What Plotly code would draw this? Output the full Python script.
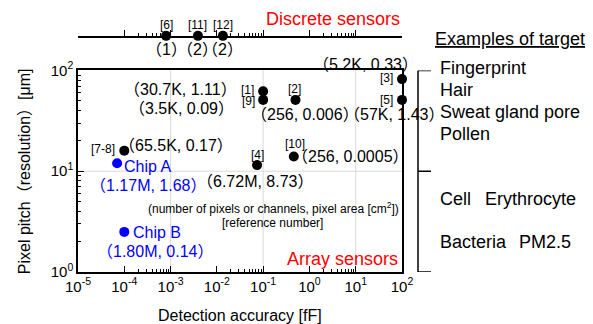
import numpy as np
import plotly.graph_objects as go

# ---------------- data ----------------
array_refs = ["[1]", "[9]", "[2]", "[3]", "[5]", "[7-8]", "[4]", "[10]"]
array_accuracy_fF = [0.1, 0.1, 0.5, 100, 100, 1e-4, 0.074, 0.46]
array_pitch_um = [62, 51, 51, 82, 51, 16, 11.5, 14]
array_info = ["（30.7K, 1.11）", "（3.5K, 0.09）", "（256, 0.006）", "（5.2K, 0.33）",
              "（57K, 1.43）", "（65.5K, 0.17）", "（6.72M, 8.73）", "（256, 0.0005）"]

chip_names = ["Chip A", "Chip B"]
chip_accuracy_fF = [7e-5, 1e-4]
chip_pitch_um = [12, 2.5]
chip_info = ["（1.17M, 1.68）", "（1.80M, 0.14）"]

discrete_refs = ["[6]", "[11]", "[12]"]
discrete_accuracy_fF = [8e-4, 3.9e-3, 0.0135]
discrete_channels = ["（1）", "（2）", "（2）"]

x_decades = [-5, -4, -3, -2, -1, 0, 1, 2]
y_decades = [0, 1, 2]
x_grid = [1e-3, 1e-1, 10]
y_grid = [10]

targets_upper = ["Fingerprint", "Hair", "Sweat gland pore", "Pollen"]
targets_lower = [["Cell", "Erythrocyte"], ["Bacteria", "PM2.5"]]

# ---------------- styles / layout ----------------
W, H = 593, 324
ML, MR, MT, MB = 78, 191, 20, 52
PW = W - ML - MR
PH = H - MT - MB
PLOT_TOP_PX = 68
LINE_TOP_PX = 33

def xp(px):
    return (px - ML) / PW

def yp(px):
    return (H - MB - px) / PH

FONT = "Arial, 'Liberation Sans', 'Noto Sans CJK JP', sans-serif"
BLUE = "#0000ff"
RED = "#ff0000"
LABEL_SIZE = 16

# label offsets: (ref_anchor, ref_dx, ref_dy, info_anchor, info_dx, info_dy) in px, dy downward
array_label_pos = [
    ("right", -7, -1, "right", -24, -2),
    ("right", -6, 1, "right", -27, 9),
    ("center", -1, -11, "center", 9, 15),
    ("right", -7, -1, "center", -37, -15),
    ("right", -7, 0, "center", -8, 15),
    ("right", -7, -2, "left", -7, -5),
    ("center", 0, -10, "center", -2, 16),
    ("center", 1, -12, "left", -4, 0),
]
chip_label_pos = [
    ("left", 5, 3, "center", 31, 22),
    ("left", 7, 1, "center", 31, 20),
]

fig = go.Figure()
fig.add_trace(go.Scatter(x=array_accuracy_fF, y=array_pitch_um, mode="markers",
                         marker=dict(color="black", size=10), cliponaxis=False,
                         xaxis="x", yaxis="y", hoverinfo="skip"))
fig.add_trace(go.Scatter(x=chip_accuracy_fF, y=chip_pitch_um, mode="markers",
                         marker=dict(color=BLUE, size=10), cliponaxis=False,
                         xaxis="x", yaxis="y", hoverinfo="skip"))
fig.add_trace(go.Scatter(x=discrete_accuracy_fF, y=[0] * len(discrete_accuracy_fF), mode="markers",
                         marker=dict(color="black", size=10), cliponaxis=False,
                         xaxis="x2", yaxis="y2", hoverinfo="skip"))

ann = []
for ref, xv, yv, info, pos in zip(array_refs, array_accuracy_fF, array_pitch_um, array_info, array_label_pos):
    ra, rdx, rdy, ia, idx, idy = pos
    ann.append(dict(x=np.log10(xv), y=np.log10(yv), xref="x", yref="y", text=ref, showarrow=False,
                    xanchor=ra, yanchor="middle", xshift=rdx, yshift=-rdy,
                    font=dict(size=12, color="black")))
    ann.append(dict(x=np.log10(xv), y=np.log10(yv), xref="x", yref="y", text=info, showarrow=False,
                    xanchor=ia, yanchor="middle", xshift=idx, yshift=-idy,
                    font=dict(size=LABEL_SIZE, color="black")))
for name, xv, yv, info, pos in zip(chip_names, chip_accuracy_fF, chip_pitch_um, chip_info, chip_label_pos):
    ra, rdx, rdy, ia, idx, idy = pos
    ann.append(dict(x=np.log10(xv), y=np.log10(yv), xref="x", yref="y", text=name, showarrow=False,
                    xanchor=ra, yanchor="middle", xshift=rdx, yshift=-rdy,
                    font=dict(size=16, color=BLUE)))
    ann.append(dict(x=np.log10(xv), y=np.log10(yv), xref="x", yref="y", text=info, showarrow=False,
                    xanchor=ia, yanchor="middle", xshift=idx, yshift=-idy,
                    font=dict(size=LABEL_SIZE, color=BLUE)))
for ref, xv, cnt in zip(discrete_refs, discrete_accuracy_fF, discrete_channels):
    ann.append(dict(x=np.log10(xv), y=0, xref="x2", yref="y2", text=ref, showarrow=False,
                    xanchor="center", yanchor="middle", yshift=11, font=dict(size=12, color="black")))
    ann.append(dict(x=np.log10(xv), y=0, xref="x2", yref="y2", text=cnt, showarrow=False,
                    xanchor="center", yanchor="middle", yshift=-14, font=dict(size=LABEL_SIZE, color="black")))

# titles and notes
ann += [
    dict(x=1.0, y=yp(16), xref="paper", yref="paper", text="Discrete sensors", showarrow=False,
         xanchor="right", yanchor="middle", font=dict(size=18, color=RED)),
    dict(x=xp(400), y=yp(259), xref="paper", yref="paper", text="Array sensors", showarrow=False,
         xanchor="right", yanchor="middle", font=dict(size=18, color=RED)),
    dict(x=xp(273.5), y=yp(207), xref="paper", yref="paper",
         text="(number of pixels or channels, pixel area [cm<sup>2</sup>])", showarrow=False,
         xanchor="center", yanchor="middle", font=dict(size=12, color="black")),
    dict(x=xp(272.5), y=yp(222), xref="paper", yref="paper", text="[reference number]", showarrow=False,
         xanchor="center", yanchor="middle", font=dict(size=12, color="black")),
    dict(x=0.5, y=yp(316), xref="paper", yref="paper", text="Detection accuracy [fF]", showarrow=False,
         xanchor="center", yanchor="middle", font=dict(size=16, color="black")),
    dict(x=xp(24), y=yp(170), xref="paper", yref="paper", text="Pixel pitch（resolution）[μm]",
         showarrow=False, textangle=-90, xanchor="center", yanchor="middle",
         font=dict(size=16, color="black")),
    dict(x=xp(433), y=yp(36), xref="paper", yref="paper", text="<u>Examples of target</u>",
         showarrow=False, xanchor="left", yanchor="middle", font=dict(size=18, color="black")),
]
upper_y_px = [66, 88, 110, 132]
for t, ypx in zip(targets_upper, upper_y_px):
    ann.append(dict(x=xp(438), y=yp(ypx), xref="paper", yref="paper", text=t, showarrow=False,
                    xanchor="left", yanchor="middle", font=dict(size=18, color="black")))
lower_y_px = [198, 242]
lower_x_px = [(438, 483), (438, 517)]
for pair, ypx, xs in zip(targets_lower, lower_y_px, lower_x_px):
    for t, xpx in zip(pair, xs):
        ann.append(dict(x=xp(xpx), y=yp(ypx), xref="paper", yref="paper", text=t, showarrow=False,
                        xanchor="left", yanchor="middle", font=dict(size=18, color="black")))

shapes = []
for g in x_grid:
    shapes.append(dict(type="line", xref="x", yref="y domain", x0=g, x1=g,
                       y0=0, y1=1, line=dict(color="#d9d9d9", width=1), layer="below"))
for g in y_grid:
    shapes.append(dict(type="line", xref="x domain", yref="y", x0=0, x1=1, y0=g, y1=g,
                       line=dict(color="#d9d9d9", width=1), layer="below"))
# bracket of target examples (spanning y decades)
bx0, bx1 = xp(418), xp(431)
y_bracket = [10.0 ** d for d in y_decades]
shapes.append(dict(type="line", xref="paper", yref="y", x0=bx0, x1=bx0, y0=y_bracket[0], y1=y_bracket[-1],
                   line=dict(color="black", width=1.5)))
for d in y_bracket:
    shapes.append(dict(type="line", xref="paper", yref="y", x0=bx0, x1=bx1, y0=d, y1=d,
                       line=dict(color="black", width=1.5)))

minor_x = [m * 10.0 ** k for k in (-4, -2, 0) for m in range(2, 10)]
minor_y = [m * 10.0 ** k for k in (0, 1) for m in range(2, 10)]

xaxis_common = dict(type="log", range=[x_decades[0], x_decades[-1]], domain=[0, 1],
                    tickvals=[10.0 ** k for k in x_decades],
                    ticks="inside", ticklen=6, tickwidth=1, tickcolor="black",
                    showline=True, linecolor="black", linewidth=1.5,
                    showgrid=False, zeroline=False,
                    minor=dict(tickvals=minor_x, ticks="inside", ticklen=3, tickwidth=1,
                               tickcolor="black", showgrid=False))

main_top = yp(PLOT_TOP_PX)
line_top = yp(LINE_TOP_PX)

fig.update_layout(
    width=W, height=H, margin=dict(l=ML, r=MR, t=MT, b=MB),
    paper_bgcolor="white", plot_bgcolor="white", showlegend=False,
    font=dict(family=FONT, color="black"),
    xaxis=dict(**xaxis_common, anchor="y", mirror=True,
               ticktext=[f"10<sup>{k}</sup>" for k in x_decades],
               tickfont=dict(size=15, color="black")),
    yaxis=dict(type="log", range=[y_decades[0], y_decades[-1]], domain=[0, main_top], anchor="x",
               tickvals=[10.0 ** k for k in y_decades],
               ticktext=[f"10<sup>{k}</sup>" for k in y_decades],
               tickfont=dict(size=15, color="black"),
               ticks="inside", ticklen=6, tickwidth=1, tickcolor="black",
               showline=True, linecolor="black", linewidth=1.5, mirror=True,
               showgrid=False, zeroline=False,
               minor=dict(tickvals=minor_y, ticks="inside", ticklen=3, tickwidth=1,
                          tickcolor="black", showgrid=False)),
    xaxis2=dict(**xaxis_common, anchor="y2", showticklabels=False),
    yaxis2=dict(domain=[line_top, 1], range=[0, 1], anchor="x2", visible=False),
    annotations=ann, shapes=shapes,
)

fig.write_html("out.html")
